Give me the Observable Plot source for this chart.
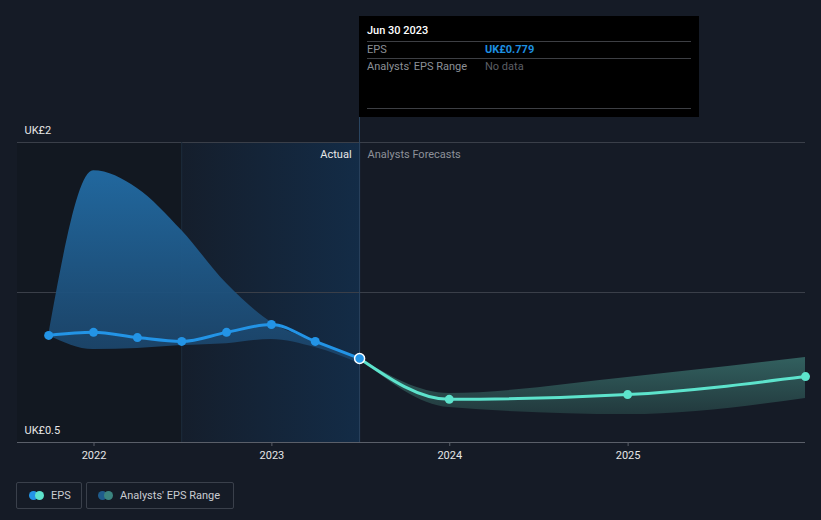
<!DOCTYPE html>
<html>
<head>
<meta charset="utf-8">
<script src="https://cdn.jsdelivr.net/npm/d3@7"></script>
<script src="https://cdn.jsdelivr.net/npm/@observablehq/plot@0.6"></script>
<style>
  html, body { margin: 0; padding: 0; background: #151b26; }
  body { width: 821px; height: 520px; overflow: hidden; font-family: Roboto, "Noto Sans", sans-serif; }
  #wrap { position: relative; width: 821px; height: 520px; }
  #chart { position: absolute; left: 0; top: 0; }
  #tip { position: absolute; left: 359px; top: 16px; width: 340px; height: 101px; background: #000; }
  #tip .row { position: absolute; left: 8px; width: 324px; font-size: 11px; }
  #tip .sep { position: absolute; left: 8px; width: 324px; height: 1px; background: #3d3f44; }
  #tipline { position: absolute; left: 359px; top: 117px; width: 1px; height: 25px; background: #2a4560; }
  .legend { position: absolute; top: 482px; height: 27px; border: 1px solid #3a404b; border-radius: 2px; box-sizing: border-box; display: flex; align-items: center; font-size: 11px; color: #c9ccd2; }
  .sw { position: relative; width: 15px; height: 9px; margin-right: 7px; }
  .sw span { position: absolute; top: 0; width: 9px; height: 9px; border-radius: 50%; }
</style>
</head>
<body>
<div id="wrap">
  <div id="chart"></div>
  <div id="tipline"></div>
  <div id="tip">
    <div class="row" style="top:8px;color:#ffffff;font-weight:500;">Jun 30 2023</div>
    <div class="sep" style="top:25px"></div>
    <div class="row" style="top:27px;color:#8c9097;">EPS<span style="position:absolute;left:118px;color:#1d8fe1;font-weight:700;">UK£0.779</span></div>
    <div class="sep" style="top:42px"></div>
    <div class="row" style="top:44px;color:#8c9097;">Analysts' EPS Range<span style="position:absolute;left:118px;color:#5c5f65;">No data</span></div>
    <div class="sep" style="top:92px"></div>
  </div>
  <div class="legend" style="left:16px;width:66px;padding-left:12px;">
    <div class="sw"><span style="left:0;background:#2394e6"></span><span style="left:6px;background:#5de3cc"></span></div>EPS
  </div>
  <div class="legend" style="left:86px;width:148px;padding-left:11px;">
    <div class="sw"><span style="left:0;background:#1f5c8c"></span><span style="left:6px;background:#3b847f"></span></div>Analysts' EPS Range
  </div>
</div>
<script>
// ---- data ----
const actualDates = ["2021-09-30","2021-12-31","2022-03-31","2022-06-30","2022-09-30","2022-12-31","2023-03-31","2023-06-30"];
const actualEps   = [0.872, 0.885, 0.863, 0.847, 0.885, 0.919, 0.847, 0.779];
const actualLow   = [0.872, 0.814, 0.818, 0.830, 0.838, 0.855, 0.822, 0.760];
const actualHigh  = [0.872, 1.790, 1.668, 1.401, 1.111, 0.928, 0.847, 0.779];

const forecastDates = ["2023-06-30","2023-12-31","2024-12-31","2025-12-31"];
const forecastEps   = [0.779, 0.632, 0.648, 0.711];
const forecastLow   = [0.779, 0.605, 0.583, 0.635];
const forecastHigh  = [0.779, 0.652, 0.708, 0.783];

const yearTicks = [2022, 2023, 2024, 2025];
const yTickValues = [0.5, 2];
const actualStart = "2022-06-30";
const actualEnd = "2023-06-30";
const xStart = "2021-07-28";
const xEnd = "2025-12-31";

// ---- tables ----
const D = s => new Date(s);
const actual = actualDates.map((d, i) => ({date: D(d), eps: actualEps[i], low: actualLow[i], high: actualHigh[i]}));
const forecast = forecastDates.map((d, i) => ({date: D(d), eps: forecastEps[i], low: forecastLow[i], high: forecastHigh[i]}));
const k = 0.27;
const yLo = yTickValues[0], yHi = yTickValues[1];
const yMid = ((yLo ** k + yHi ** k) / 2) ** (1 / k);

const defs = () => {
  const g = d3.create("svg:defs");
  const a = g.append("linearGradient").attr("id", "actualBg").attr("x1", 0).attr("x2", 1).attr("y1", 0).attr("y2", 0);
  a.append("stop").attr("offset", 0).attr("stop-color", "#11406e").attr("stop-opacity", 0.08);
  a.append("stop").attr("offset", 1).attr("stop-color", "#11406e").attr("stop-opacity", 0.45);
  const r = g.append("linearGradient").attr("id", "rangeA").attr("x1", 0).attr("x2", 0).attr("y1", 0).attr("y2", 1);
  r.append("stop").attr("offset", 0).attr("stop-color", "#226ca5");
  r.append("stop").attr("offset", 1).attr("stop-color", "#1b4266");
  const f = g.append("linearGradient").attr("id", "rangeF").attr("x1", 0).attr("x2", 0).attr("y1", 0).attr("y2", 1);
  f.append("stop").attr("offset", 0).attr("stop-color", "#32605f");
  f.append("stop").attr("offset", 1).attr("stop-color", "#22393d");
  return g.node();
};

const chart = Plot.plot({
  width: 821,
  height: 470,
  marginLeft: 17,
  marginRight: 16,
  marginTop: 142,
  marginBottom: 28,
  style: {background: "transparent", fontFamily: "Roboto, sans-serif", fontSize: "11px", color: "#e6e6e6", overflow: "visible"},
  x: {type: "utc", domain: [D(xStart), D(xEnd)]},
  y: {type: "pow", exponent: k, domain: [yLo, yHi]},
  marks: [
    defs,
    Plot.rect([{x1: D(xStart), x2: D(actualStart)}], {x1: "x1", x2: "x2", fill: "#0b0e14", fillOpacity: 0.25}),
    Plot.rect([{x1: D(actualStart), x2: D(actualEnd)}], {x1: "x1", x2: "x2", fill: "url(#actualBg)"}),
    Plot.gridY([yMid, yHi], {stroke: "#3a3f49", strokeOpacity: 1}),
    Plot.ruleX([D(actualStart)], {stroke: "#1d2c3c"}),
    Plot.ruleX([D(actualEnd)], {stroke: "#2a4560"}),
    Plot.areaY(actual, {x: "date", y1: "low", y2: "high", curve: "monotone-x", fill: "url(#rangeA)", fillOpacity: 0.95}),
    Plot.areaY(forecast, {x: "date", y1: "low", y2: "high", curve: "monotone-x", fill: "url(#rangeF)"}),
    Plot.ruleY([yLo], {stroke: "#5a5f69"}),
    Plot.axisX({ticks: yearTicks.map(y => new Date(Date.UTC(y, 0, 1))), tickFormat: "%Y", tickSize: 4, tickPadding: 5, stroke: "#5a5f69", fill: "#e6e6e6", fontSize: 11}),
    Plot.axisY({ticks: yTickValues, tickFormat: d => "UK£" + d, tickSize: 0, tickPadding: 0, textAnchor: "start", dx: 7, dy: -12, fill: "#e6e6e6", fontSize: 11}),
    Plot.line(forecast, {x: "date", y: "eps", curve: "monotone-x", stroke: "#5de3cc", strokeWidth: 3}),
    Plot.line(actual, {x: "date", y: "eps", curve: "monotone-x", stroke: "#2394e6", strokeWidth: 3}),
    Plot.dot(forecast.slice(1), {x: "date", y: "eps", r: 4.5, fill: "#5de3cc"}),
    Plot.dot(actual.slice(0, -1), {x: "date", y: "eps", r: 4.5, fill: "#2394e6"}),
    Plot.dot(actual.slice(-1), {x: "date", y: "eps", r: 5, fill: "#2394e6", stroke: "#ffffff", strokeWidth: 1.5}),
    Plot.text(["Actual"], {x: D(actualEnd), frameAnchor: "top", lineAnchor: "middle", dy: 12, dx: -8, textAnchor: "end", fill: "#e8e8e8", fontSize: 11}),
    Plot.text(["Analysts Forecasts"], {x: D(actualEnd), frameAnchor: "top", lineAnchor: "middle", dy: 12, dx: 8, textAnchor: "start", fill: "#8d9199", fontSize: 11})
  ]
});
document.getElementById("chart").appendChild(chart);
</script>
</body>
</html>
